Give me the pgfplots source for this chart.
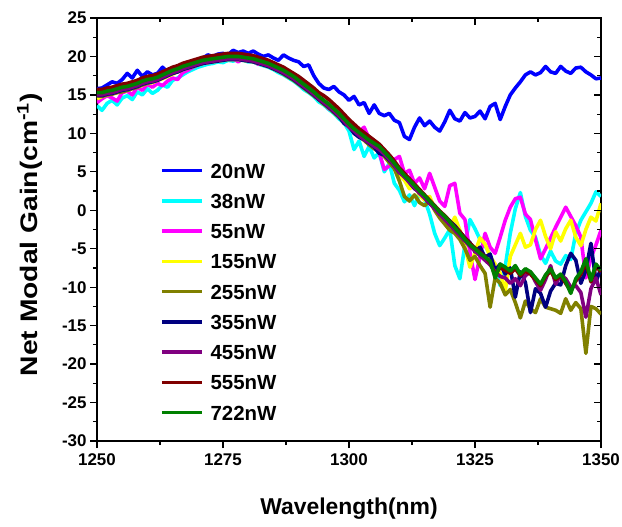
\documentclass[border=0pt]{standalone}
\usepackage{fontspec}
\setmainfont{Liberation Sans}
\usepackage{graphicx}
\usepackage{pgfplots}
\usepackage{pgfplotstable}
\pgfplotsset{compat=1.18}
\definecolor{cblue}{RGB}{0,0,255}
\definecolor{ccyan}{RGB}{0,255,255}
\definecolor{cmag}{RGB}{255,0,255}
\definecolor{cyel}{RGB}{255,255,0}
\definecolor{colive}{RGB}{128,128,0}
\definecolor{cnavy}{RGB}{0,0,128}
\definecolor{cpurp}{RGB}{128,0,128}
\definecolor{cmaroon}{RGB}{128,0,0}
\definecolor{cgreen}{RGB}{0,128,0}
\pgfplotstableread{
x b c m y o n p r g
1250 15.8 13.6 14.0 14.5 14.9 14.9 15.0 15.7 15.3
1251 15.9 13.0 14.5 14.8 14.8 14.9 15.0 15.7 15.3
1252 16.3 13.9 14.9 15.0 15.0 15.1 15.2 15.9 15.5
1253 16.7 14.3 14.6 15.2 15.1 15.2 15.3 16.0 15.6
1254 16.5 13.7 14.2 15.3 15.3 15.4 15.5 16.2 15.8
1255 17.0 14.6 15.3 15.5 15.4 15.6 15.7 16.4 16.0
1256 17.8 14.9 15.5 15.6 15.6 15.7 15.8 16.5 16.1
1257 17.2 14.4 15.0 15.9 15.8 15.9 16.0 16.7 16.3
1258 18.2 15.4 16.0 16.0 16.0 16.1 16.2 16.9 16.5
1259 17.4 15.0 15.6 16.3 16.3 16.4 16.5 17.2 16.8
1260 18.0 15.8 16.4 16.5 16.5 16.6 16.7 17.4 17.0
1261 17.6 15.2 16.0 16.6 16.7 16.7 16.8 17.5 17.1
1262 17.8 15.6 16.5 16.9 16.9 16.9 17.0 17.7 17.3
1263 18.6 16.3 16.2 17.1 17.2 17.2 17.3 18.0 17.6
1264 18.0 16.0 16.8 17.4 17.5 17.5 17.6 18.3 17.9
1265 18.3 16.9 17.2 17.7 17.8 17.8 17.9 18.6 18.2
1266 18.6 17.2 17.0 18.0 18.0 18.0 18.1 18.8 18.4
1267 18.9 17.6 17.9 18.3 18.3 18.3 18.4 19.1 18.7
1268 19.1 18.0 18.2 18.5 18.5 18.5 18.6 19.3 18.9
1269 19.4 18.3 18.6 18.7 18.7 18.7 18.8 19.5 19.1
1270 19.6 18.6 18.9 18.9 18.9 18.9 19.0 19.7 19.3
1271 19.8 18.8 19.1 19.1 19.1 19.1 19.2 19.9 19.5
1272 20.2 19.0 19.2 19.2 19.3 19.2 19.3 20.0 19.6
1273 20.0 19.1 19.4 19.3 19.4 19.3 19.4 20.1 19.7
1274 20.3 19.3 19.5 19.4 19.5 19.4 19.5 20.2 19.8
1275 20.4 19.2 19.5 19.5 19.6 19.5 19.6 20.3 19.9
1276 20.2 19.5 19.7 19.6 19.7 19.6 19.7 20.4 20.0
1277 20.8 19.4 19.8 19.6 19.7 19.6 19.7 20.4 20.0
1278 20.5 19.6 19.3 19.6 19.7 19.6 19.7 20.4 20.0
1279 20.7 19.5 19.7 19.5 19.6 19.5 19.6 20.3 19.9
1280 20.4 19.3 19.6 19.4 19.5 19.4 19.5 20.2 19.8
1281 20.7 19.3 19.4 19.3 19.4 19.3 19.4 20.1 19.7
1282 20.3 19.0 19.0 19.1 19.2 19.1 19.2 19.9 19.5
1283 20.0 18.8 19.1 18.9 18.9 18.9 19.0 19.7 19.3
1284 20.2 18.6 18.8 18.7 18.7 18.7 18.8 19.5 19.1
1285 19.8 18.3 18.5 18.4 18.4 18.4 18.5 19.2 18.8
1286 19.5 17.9 18.2 18.1 18.1 18.1 18.2 18.9 18.5
1287 20.2 17.6 17.8 17.8 17.7 17.8 17.9 18.6 18.2
1288 19.8 17.2 17.5 17.4 17.3 17.4 17.5 18.2 17.8
1289 19.5 16.8 17.0 17.0 16.9 17.0 17.1 17.8 17.4
1290 19.3 16.3 16.6 16.5 16.4 16.5 16.6 17.4 16.9
1291 18.7 15.7 16.0 16.0 15.9 16.0 16.1 16.9 16.4
1292 18.9 15.3 15.6 15.5 15.4 15.5 15.6 16.4 15.9
1293 17.5 14.8 15.0 15.0 14.9 15.0 15.1 15.9 15.4
1294 16.5 14.1 14.5 14.4 14.4 14.4 14.5 15.3 14.8
1295 15.9 13.7 14.0 13.8 13.8 13.9 14.0 14.9 14.3
1296 15.7 13.1 13.2 13.4 13.3 13.4 13.5 14.4 13.8
1297 16.1 12.6 12.9 12.8 12.7 12.8 12.9 13.8 13.2
1298 15.4 11.9 12.3 12.2 12.1 12.2 12.3 13.2 12.6
1299 15.0 11.4 11.8 11.7 11.5 11.3 11.6 12.5 11.9
1300 14.3 10.3 11.2 11.0 10.8 10.9 10.8 11.8 11.2
1301 14.8 7.9 10.8 10.4 10.2 10.0 10.3 11.2 10.6
1302 13.7 9.0 10.2 9.6 9.6 9.5 9.7 10.6 10.1
1303 14.0 7.0 10.8 9.2 9.1 9.2 9.2 10.1 9.6
1304 12.6 8.3 9.3 8.8 8.5 8.7 8.8 9.6 9.1
1305 13.7 6.8 8.6 8.1 8.0 8.2 8.3 9.1 8.7
1306 12.6 7.5 7.5 7.8 7.6 7.4 7.9 8.6 8.3
1307 12.3 5.0 5.3 7.2 7.0 7.2 7.3 7.9 7.6
1308 12.6 6.1 5.8 6.2 6.2 6.5 6.6 7.2 6.9
1309 11.7 3.5 6.6 5.6 5.4 5.8 5.8 6.4 6.1
1310 11.4 2.6 7.0 4.6 3.8 4.9 4.9 5.5 5.3
1311 9.6 1.1 4.8 3.9 1.8 4.6 4.3 4.8 4.5
1312 9.2 2.0 5.2 2.8 1.2 3.6 3.6 4.1 3.9
1313 10.8 0.6 3.5 3.2 2.0 2.8 2.9 3.4 3.2
1314 12.0 2.2 4.2 2.0 1.0 2.4 2.2 2.7 2.5
1315 11.0 1.4 2.8 1.3 0.6 1.6 1.6 2.0 1.9
1316 11.6 -0.5 4.8 1.8 1.2 0.9 0.9 1.3 1.2
1317 10.8 -3.0 3.0 0.2 0.0 0.3 0.2 0.6 0.5
1318 10.3 -4.6 1.2 -0.6 -1.0 -0.5 -0.5 -0.1 -0.2
1319 11.5 -3.6 0.5 -1.0 -1.8 -0.8 -1.2 -0.7 -0.8
1320 13.0 -2.5 3.2 -2.3 -2.6 -1.4 -1.9 -1.4 -1.5
1321 11.9 -7.2 3.5 -0.9 -3.0 -2.0 -2.6 -2.2 -2.3
1322 11.6 -8.9 -0.4 -2.6 -3.8 -2.8 -3.3 -2.8 -3.0
1323 12.7 -4.5 -1.2 -4.8 -5.0 -3.6 -4.0 -3.6 -3.8
1324 12.0 -1.2 -5.5 -7.4 -6.5 -4.2 -4.7 -4.3 -4.5
1325 12.2 -2.4 -9.0 -5.5 -6.0 -5.4 -5.3 -4.9 -5.0
1326 12.9 -3.8 -6.0 -3.6 -7.2 -4.8 -5.9 -5.5 -5.6
1327 11.9 -4.6 -3.0 -4.4 -8.2 -6.1 -6.5 -6.0 -6.1
1328 13.5 -5.8 -4.8 -6.0 -12.6 -5.7 -7.1 -6.8 -6.6
1329 13.9 -7.5 -5.6 -7.0 -8.8 -7.8 -8.0 -8.4 -8.8
1330 11.8 -9.8 -3.5 -8.2 -9.5 -7.0 -8.6 -7.4 -7.0
1331 13.5 -7.3 -1.3 -10.5 -11.0 -8.3 -8.8 -7.8 -7.4
1332 15.0 -3.0 0.4 -6.0 -10.3 -7.5 -9.5 -8.2 -7.9
1333 15.9 0.2 1.5 -4.5 -12.0 -11.3 -8.9 -7.6 -7.2
1334 16.7 2.3 1.7 -3.0 -14.0 -8.0 -9.8 -8.5 -8.3
1335 17.6 -0.8 -0.5 -4.8 -11.8 -9.4 -8.5 -7.9 -7.6
1336 18.0 -2.6 -1.2 -4.5 -12.8 -13.3 -8.0 -8.3 -8.0
1337 17.6 -3.5 -3.8 -2.5 -13.3 -10.2 -9.3 -9.0 -8.8
1338 17.9 -5.8 -6.3 -1.3 -11.5 -10.8 -10.4 -9.8 -9.6
1339 18.7 -6.9 -5.0 -3.4 -12.6 -12.6 -9.0 -8.6 -8.4
1340 18.0 -5.3 -3.6 -5.0 -12.8 -10.5 -7.2 -7.9 -7.6
1341 17.8 -6.6 -2.2 -2.8 -13.0 -9.5 -9.6 -9.0 -8.8
1342 18.7 -7.0 -0.9 -4.0 -13.4 -9.7 -8.4 -8.5 -8.3
1343 18.1 -5.9 0.4 -2.4 -11.5 -7.2 -8.9 -9.5 -9.3
1344 17.8 -6.4 -0.8 -1.3 -13.0 -5.6 -10.0 -10.5 -10.8
1345 18.5 -3.0 -2.0 -3.5 -12.0 -6.5 -9.8 -9.2 -8.9
1346 18.6 -1.3 -3.5 -4.6 -12.8 -9.5 -10.7 -8.3 -8.0
1347 18.0 -0.2 -8.8 -2.5 -18.6 -7.8 -13.9 -6.8 -6.3
1348 17.6 0.9 -6.2 -0.9 -12.5 -4.3 -10.2 -9.3 -9.1
1349 17.1 2.4 -4.5 -1.4 -12.8 -9.3 -8.8 -7.3 -7.0
1350 17.2 1.8 -2.6 0.9 -13.5 -7.5 -11.0 -8.0 -7.8
}\gaindata
\begin{document}
\begin{tikzpicture}
\path[use as bounding box] (-97bp,-86bp) rectangle (525bp,441bp);
\begin{axis}[
  scale only axis, width=504bp, height=423bp,
  xmin=1250, xmax=1350, ymin=-30, ymax=25,
  xtick={1250,1275,1300,1325,1350},
  ytick={-30,-25,-20,-15,-10,-5,0,5,10,15,20,25},
  minor x tick num=1, minor y tick num=1,
  tick align=outside, xtick pos=left, ytick pos=left,
  major tick length=7bp, minor tick length=4bp,
  tick style={black, line width=1.2bp},
  axis line style={line width=1.3bp},
  /pgf/number format/assume math mode=true,
  /pgf/number format/set thousands separator={},
  ticklabel style={font=\bfseries\fontsize{17}{17}\selectfont},
  xticklabel style={yshift=-2bp},
  xlabel={Wavelength(nm)},
  ylabel={\scalebox{1.18}[1]{Net Modal Gain(cm\textsuperscript{-1})}},
  every axis x label/.style={at={(axis description cs:0.5,0)}, anchor=center, yshift=-68bp,
    font=\bfseries\fontsize{23}{23}\selectfont},
  every axis y label/.style={at={(axis description cs:-0.133,0.488)}, anchor=center, rotate=90,
    font=\bfseries\fontsize{24}{24}\selectfont},
  legend style={draw=none, fill=none, at={(axis description cs:0.125,0.657)}, anchor=north west,
    inner sep=0pt, outer sep=0pt, row sep=15.25bp,
    font=\bfseries\fontsize{20.5}{20.5}\selectfont,
    nodes={inner sep=0pt, text height=15bp, text depth=0bp},
    /tikz/every odd column/.append style={column sep=7bp}},
  legend cell align=left,
  legend image code/.code={\draw[#1] (0bp,0bp) -- (40bp,0bp);},
  every axis plot/.append style={line width=3.6bp, line join=round, no markers},
]
\addplot[cblue] table[x=x,y=b] {\gaindata};
\addlegendentry{20nW}
\addplot[ccyan] table[x=x,y=c] {\gaindata};
\addlegendentry{38nW}
\addplot[cmag] table[x=x,y=m] {\gaindata};
\addlegendentry{55nW}
\addplot[cyel] table[x=x,y=y] {\gaindata};
\addlegendentry{155nW}
\addplot[colive] table[x=x,y=o] {\gaindata};
\addlegendentry{255nW}
\addplot[cnavy] table[x=x,y=n] {\gaindata};
\addlegendentry{355nW}
\addplot[cpurp] table[x=x,y=p] {\gaindata};
\addlegendentry{455nW}
\addplot[cmaroon] table[x=x,y=r] {\gaindata};
\addlegendentry{555nW}
\addplot[cgreen] table[x=x,y=g] {\gaindata};
\addlegendentry{722nW}
\end{axis}
\begin{axis}[
  scale only axis, width=504bp, height=423bp,
  xmin=1250, xmax=1350, ymin=-30, ymax=25,
  xtick={1250,1275,1300,1325,1350},
  ytick={-30,-25,-20,-15,-10,-5,0,5,10,15,20,25},
  minor x tick num=1, minor y tick num=1,
  tick align=inside, xtick pos=right, ytick pos=right,
  major tick length=7bp, minor tick length=4bp,
  tick style={black, line width=1.2bp},
  axis line style={draw=none},
  xticklabels={}, yticklabels={},
]
\end{axis}
\end{tikzpicture}
\end{document}
